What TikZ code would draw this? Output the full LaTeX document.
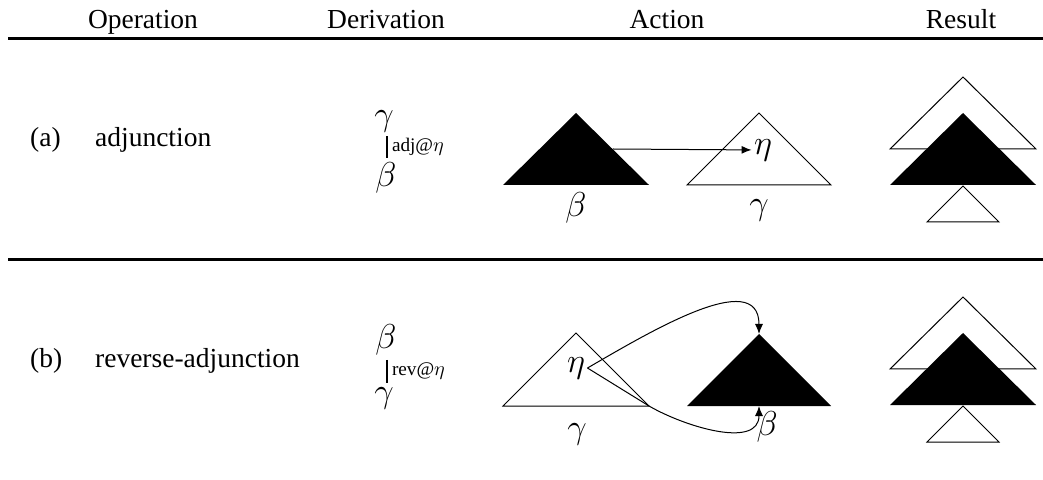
\documentclass[tikz,border=0pt]{standalone}
\usepackage{amsmath, amssymb}
\usepackage{fontspec}
\setmainfont{Liberation Serif}
\usetikzlibrary{arrows.meta, positioning}

\tikzset{
    rulebar/.style={line width=1.5pt},
    derivbar/.style={line width=1pt, shorten <=1pt, shorten >=1pt},
    opname/.style={anchor=base west},
    colhead/.style={anchor=base},
    tight/.style={inner sep=1pt},
    greek/.style={font=\fontsize{16}{18}\selectfont},
    steplabel/.style={right, inner sep=2pt, font=\fontsize{9.6}{11}\selectfont},
    blacktree/.style={fill=black},
    whitetree/.style={draw=black, fill=white, line width=0.5pt}
}

\begin{document}
\begin{tikzpicture}[x=0.5pt, y=-0.5pt, >={Latex[length=5pt,width=4pt]}, line width=0.5pt,
    font=\fontsize{13.75}{16}\selectfont]
        \useasboundingbox (0,0) rectangle (1043,480);

        % ====================
        % 0. Header
        % ====================
        \node[colhead] (hOp) at (143,29) {Operation};
        \node[colhead] (hDer) at (386,29) {Derivation};
        \node[colhead] (hAct) at (667,29) {Action};
        \node[colhead] (hRes) at (961,29) {Result};

        \draw[rulebar] (8,38.5) -- (1043,38.5);
        \draw[rulebar] (8,259.5) -- (1043,259.5);

        % ====================
        % 1. Adjunction
        % ====================
        \begin{scope}
            \node[opname] (labA) at (23,147) {(a)};
            \node[opname] (opA) at (88,147) {adjunction};

            % derivation
            \node[tight, greek] (dTopA) at (384,121) {$\gamma$};
            \node[tight, greek] (dBotA) at (386,178) {$\beta$};
            \draw[derivbar] ([xshift=1.5pt]dTopA.south) -- ([xshift=0.5pt]dBotA.north)
                node[steplabel, midway] (stepA) {adj@$\eta$};

            % action
            \fill[blacktree] (503,185) -- (576,113) -- (649,185) -- cycle;
            \draw[whitetree] (687,185) -- (759,113) -- (831,185) -- cycle;
            \coordinate (edgeA) at (613,149);
            \node[tight, greek] (etaA) at (763,150) {$\eta$};
            \draw[->] (edgeA) -- (etaA);
            \node[greek] (betaA) at (576,208) {$\beta$};
            \node[greek] (gammaA) at (759,210) {$\gamma$};

            % result
            \draw[whitetree] (890,149) -- (963,77) -- (1036,149) -- cycle;
            \fill[blacktree] (890,185) -- (963,113) -- (1036,185) -- cycle;
            \draw[whitetree] (927,222) -- (963,186) -- (999,222) -- cycle;
        \end{scope}

        % ====================
        % 2. Reverse adjunction
        % ====================
        \begin{scope}[shift={(0,220)}]
            \node[opname] (labB) at (23,147) {(b)};
            \node[opname] (opB) at (88,147) {reverse-adjunction};

            % derivation
            \node[tight, greek] (dTopB) at (386,120) {$\beta$};
            \node[tight, greek] (dBotB) at (384,178) {$\gamma$};
            \draw[derivbar] ([xshift=0.5pt]dTopB.south) -- ([xshift=1.5pt]dBotB.north)
                node[steplabel, midway] (stepB) {rev@$\eta$};

            % action
            \draw[whitetree] (503,186) -- (576,113) -- (649,186) -- cycle;
            \fill[blacktree] (687,186) -- (759,114) -- (831,186) -- cycle;
            \node[tight, greek] (etaB) at (576,148) {$\eta$};
            \coordinate (cornerB) at (649,186);
            \coordinate (apexB) at (759,114);
            \coordinate (baseB) at (759,186);
            \draw (etaB.east) -- (cornerB);
            \draw[->] (etaB.east) to[out=30, in=90] (apexB);
            \draw[->] (cornerB) to[out=-30, in=-90] (baseB);
            \node[greek] (betaB) at (767,207) {$\beta$};
            \node[greek] (gammaB) at (577,214) {$\gamma$};

            % result
            \draw[whitetree] (890,149) -- (963,77) -- (1036,149) -- cycle;
            \fill[blacktree] (890,185) -- (963,113) -- (1036,185) -- cycle;
            \draw[whitetree] (927,222) -- (963,186) -- (999,222) -- cycle;
        \end{scope}

    \end{tikzpicture}
\end{document}
